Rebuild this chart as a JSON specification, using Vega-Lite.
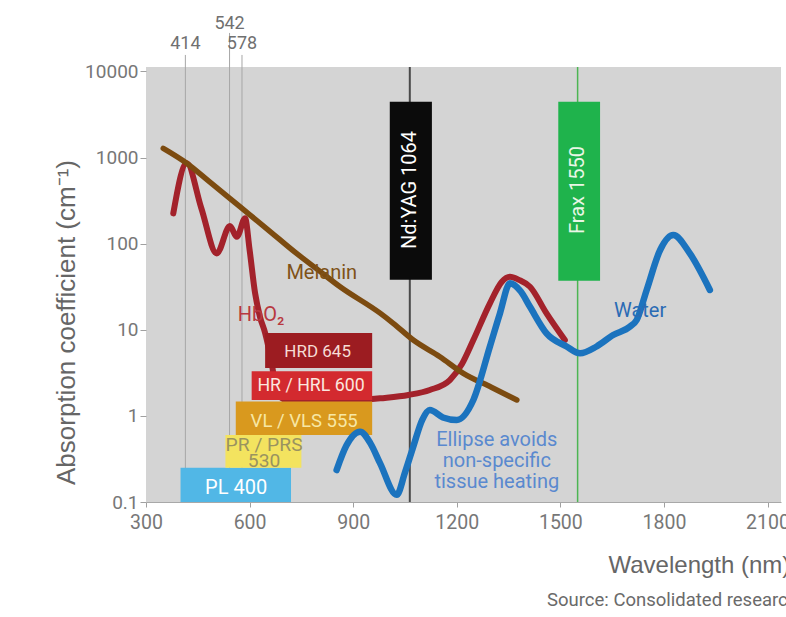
{
  "$schema": "https://vega.github.io/schema/vega-lite/v6.json",
  "width": 635,
  "height": 435,
  "autosize": {"type": "none"},
  "padding": {"left": 146, "top": 67, "right": 5, "bottom": 115},
  "background": "#ffffff",
  "view": {"fill": "#d4d4d4", "stroke": null},
  "config": {"font": "Roboto"},
  "title": {
    "text": "Source: Consolidated research",
    "orient": "bottom",
    "anchor": "start",
    "frame": "group",
    "dx": 401,
    "offset": 14,
    "font": "Roboto",
    "fontSize": 18.5,
    "fontWeight": "normal",
    "color": "#6a6a6a",
    "baseline": "top"
  },
  "datasets": {
    "curves": [
      {"series": "Melanin", "nm": 350, "k": 1280},
      {"series": "Melanin", "nm": 418, "k": 860},
      {"series": "Melanin", "nm": 480, "k": 540},
      {"series": "Melanin", "nm": 572, "k": 269},
      {"series": "Melanin", "nm": 650, "k": 149},
      {"series": "Melanin", "nm": 736, "k": 77},
      {"series": "Melanin", "nm": 800, "k": 49},
      {"series": "Melanin", "nm": 862, "k": 31.6},
      {"series": "Melanin", "nm": 978, "k": 15.6},
      {"series": "Melanin", "nm": 1016, "k": 11.9},
      {"series": "Melanin", "nm": 1074, "k": 7.6},
      {"series": "Melanin", "nm": 1151, "k": 4.87},
      {"series": "Melanin", "nm": 1219, "k": 3.12},
      {"series": "Melanin", "nm": 1300, "k": 2.15},
      {"series": "Melanin", "nm": 1374, "k": 1.53},
      {"series": "HbO2", "nm": 379, "k": 225},
      {"series": "HbO2", "nm": 418, "k": 860},
      {"series": "HbO2", "nm": 460, "k": 260},
      {"series": "HbO2", "nm": 505, "k": 77},
      {"series": "HbO2", "nm": 543, "k": 160},
      {"series": "HbO2", "nm": 563, "k": 120},
      {"series": "HbO2", "nm": 587, "k": 197},
      {"series": "HbO2", "nm": 600, "k": 85},
      {"series": "HbO2", "nm": 616, "k": 26.5},
      {"series": "HbO2", "nm": 630, "k": 14.2},
      {"series": "HbO2", "nm": 645, "k": 9.2},
      {"series": "HbO2", "nm": 664, "k": 4.1},
      {"series": "HbO2", "nm": 679, "k": 1.83},
      {"series": "HbO2", "nm": 700, "k": 1.55},
      {"series": "HbO2", "nm": 727, "k": 1.46},
      {"series": "HbO2", "nm": 800, "k": 1.45},
      {"series": "HbO2", "nm": 900, "k": 1.5},
      {"series": "HbO2", "nm": 978, "k": 1.6},
      {"series": "HbO2", "nm": 1060, "k": 1.75},
      {"series": "HbO2", "nm": 1122, "k": 2.0},
      {"series": "HbO2", "nm": 1180, "k": 2.61},
      {"series": "HbO2", "nm": 1215, "k": 4.0},
      {"series": "HbO2", "nm": 1248, "k": 7.6},
      {"series": "HbO2", "nm": 1296, "k": 20.3},
      {"series": "HbO2", "nm": 1330, "k": 36},
      {"series": "HbO2", "nm": 1354, "k": 41.4},
      {"series": "HbO2", "nm": 1380, "k": 38},
      {"series": "HbO2", "nm": 1412, "k": 31.6},
      {"series": "HbO2", "nm": 1460, "k": 15.5},
      {"series": "HbO2", "nm": 1513, "k": 7.6},
      {"series": "Water", "nm": 852, "k": 0.235},
      {"series": "Water", "nm": 880, "k": 0.45},
      {"series": "Water", "nm": 920, "k": 0.656},
      {"series": "Water", "nm": 950, "k": 0.48},
      {"series": "Water", "nm": 978, "k": 0.281},
      {"series": "Water", "nm": 1026, "k": 0.121},
      {"series": "Water", "nm": 1050, "k": 0.22},
      {"series": "Water", "nm": 1074, "k": 0.439},
      {"series": "Water", "nm": 1100, "k": 0.9},
      {"series": "Water", "nm": 1122, "k": 1.17},
      {"series": "Water", "nm": 1160, "k": 0.96},
      {"series": "Water", "nm": 1200, "k": 0.896},
      {"series": "Water", "nm": 1248, "k": 1.53},
      {"series": "Water", "nm": 1296, "k": 6.4},
      {"series": "Water", "nm": 1325, "k": 15.5},
      {"series": "Water", "nm": 1354, "k": 34.7},
      {"series": "Water", "nm": 1385, "k": 28},
      {"series": "Water", "nm": 1412, "k": 18.5},
      {"series": "Water", "nm": 1460, "k": 9.1},
      {"series": "Water", "nm": 1518, "k": 6.4},
      {"series": "Water", "nm": 1557, "k": 5.33},
      {"series": "Water", "nm": 1605, "k": 6.4},
      {"series": "Water", "nm": 1653, "k": 8.7},
      {"series": "Water", "nm": 1702, "k": 10.9},
      {"series": "Water", "nm": 1721, "k": 13.0},
      {"series": "Water", "nm": 1750, "k": 29},
      {"series": "Water", "nm": 1789, "k": 84.5},
      {"series": "Water", "nm": 1827, "k": 126},
      {"series": "Water", "nm": 1875, "k": 77},
      {"series": "Water", "nm": 1933, "k": 29}
    ],
    "bands": [
      {"band": "PL 400", "from": 400, "to": 720, "lo": 0.1, "hi": 0.25, "label": "PL 400", "labelNm": 561, "labelK": 0.147},
      {"band": "PR / PRS 530", "from": 530, "to": 750, "lo": 0.25, "hi": 0.6, "label": "PR / PRS\n530", "labelNm": 642, "labelK": 0.455},
      {"band": "VL / VLS 555", "from": 560, "to": 955, "lo": 0.6, "hi": 1.47, "label": "VL / VLS 555", "labelNm": 758, "labelK": 0.873},
      {"band": "HR / HRL 600", "from": 606, "to": 955, "lo": 1.53, "hi": 3.3, "label": "HR / HRL 600", "labelNm": 778, "labelK": 2.22},
      {"band": "HRD 645", "from": 645, "to": 955, "lo": 3.6, "hi": 9.2, "label": "HRD 645", "labelNm": 797, "labelK": 5.52}
    ],
    "lasers": [
      {"name": "Nd:YAG 1064", "nm": 1064, "from": 1006, "to": 1128, "lo": 38, "hi": 4460, "labelK": 420},
      {"name": "Frax 1550", "nm": 1550, "from": 1494, "to": 1615, "lo": 37, "hi": 4460, "labelK": 420}
    ],
    "peaks": [
      {"peak": "414", "nm": 414, "top": 15560, "labelK": 20600},
      {"peak": "542", "nm": 542, "top": 28000, "labelK": 35150},
      {"peak": "578", "nm": 578, "top": 15560, "labelK": 20600}
    ],
    "notes": [
      {"note": "Melanin", "nm": 809, "k": 45.7},
      {"note": "HbO₂", "nm": 633, "k": 14.9},
      {"note": "Water", "nm": 1731, "k": 16.5},
      {"note": "Ellipse avoids\nnon-specific\ntissue heating", "nm": 1316, "k": 0.52}
    ]
  },
  "resolve": {"scale": {"color": "independent", "size": "independent"}},
  "layer": [
    {
      "data": {"name": "peaks"},
      "mark": {"type": "rule", "color": "#a6a6a6", "strokeWidth": 1},
      "encoding": {
        "x": {
          "field": "nm", "type": "quantitative",
          "scale": {"domain": [300, 2139], "nice": false, "zero": false},
          "axis": {
            "title": "Wavelength (nm)",
            "values": [300, 600, 900, 1200, 1500, 1800, 2100],
            "format": "d",
            "grid": false,
            "labelFont": "Roboto",
            "labelFontSize": 19.5,
            "labelColor": "#777777",
            "labelPadding": 6,
            "labelFlush": false,
            "labelOverlap": false,
            "labelBound": false,
            "tickColor": "#a0a0a0",
            "tickSize": 5,
            "domainColor": "#a8a8a8",
            "titleFont": "Liberation Sans",
            "titleFontSize": 24,
            "titleFontWeight": "normal",
            "titleColor": "#666666",
            "titleX": 462,
            "titleY": 70,
            "titleAlign": "left",
            "titleBaseline": "alphabetic"
          }
        },
        "y": {
          "field": "top", "type": "quantitative",
          "scale": {"type": "log", "domain": [0.1, 11270], "nice": false},
          "axis": {
            "title": "Absorption coefficient (cm⁻¹)",
            "values": [0.1, 1, 10, 100, 1000, 10000],
            "labelExpr": "datum.value < 1 ? '0.1' : format(datum.value, 'd')",
            "grid": false,
            "domain": false,
            "labelFont": "Roboto",
            "labelFontSize": 19,
            "labelColor": "#777777",
            "labelPadding": 2,
            "tickColor": "#a0a0a0",
            "tickSize": 6,
            "titleFont": "Liberation Sans",
            "titleFontSize": 26,
            "titleFontWeight": "normal",
            "titleColor": "#666666",
            "titleX": -72,
            "titleY": 255,
            "titleAlign": "center",
            "titleBaseline": "alphabetic",
            "titleAngle": 270
          }
        },
        "y2": {"datum": 0.1}
      }
    },
    {
      "data": {"name": "peaks"},
      "mark": {"type": "text", "color": "#707070", "fontSize": 18, "align": "center", "baseline": "middle"},
      "encoding": {
        "x": {"field": "nm", "type": "quantitative", "scale": {"domain": [300, 2139], "nice": false, "zero": false}},
        "y": {"field": "labelK", "type": "quantitative", "scale": {"type": "log", "domain": [0.1, 11270], "nice": false}},
        "text": {"field": "peak"}
      }
    },
    {
      "data": {"name": "lasers"},
      "transform": [{"filter": "datum.name == 'Nd:YAG 1064'"}],
      "mark": {"type": "rule", "color": "#4a4a4a", "strokeWidth": 2},
      "encoding": {
        "x": {"field": "nm", "type": "quantitative", "scale": {"domain": [300, 2139], "nice": false, "zero": false}},
        "y": {"datum": 11270, "type": "quantitative", "scale": {"type": "log", "domain": [0.1, 11270], "nice": false}},
        "y2": {"datum": 0.1}
      }
    },
    {
      "data": {"name": "lasers"},
      "transform": [{"filter": "datum.name == 'Frax 1550'"}],
      "mark": {"type": "rule", "color": "#4cb552", "strokeWidth": 1.5},
      "encoding": {
        "x": {"field": "nm", "type": "quantitative", "scale": {"domain": [300, 2139], "nice": false, "zero": false}},
        "y": {"datum": 11270, "type": "quantitative", "scale": {"type": "log", "domain": [0.1, 11270], "nice": false}},
        "y2": {"datum": 0.1}
      }
    },
    {
      "data": {"name": "curves"},
      "transform": [{"filter": "datum.series == 'HbO2'"}],
      "mark": {"type": "line", "color": "#a3222b", "strokeWidth": 6, "interpolate": "monotone", "strokeCap": "round", "strokeJoin": "round"},
      "encoding": {
        "x": {"field": "nm", "type": "quantitative", "scale": {"domain": [300, 2139], "nice": false, "zero": false}},
        "y": {"field": "k", "type": "quantitative", "scale": {"type": "log", "domain": [0.1, 11270], "nice": false}},
        "order": {"field": "nm"}
      }
    },
    {
      "data": {"name": "bands"},
      "mark": {"type": "rect"},
      "encoding": {
        "x": {"field": "from", "type": "quantitative", "scale": {"domain": [300, 2139], "nice": false, "zero": false}},
        "x2": {"field": "to"},
        "y": {"field": "lo", "type": "quantitative", "scale": {"type": "log", "domain": [0.1, 11270], "nice": false}},
        "y2": {"field": "hi"},
        "color": {
          "field": "band", "type": "nominal", "legend": null,
          "scale": {
            "domain": ["PL 400", "PR / PRS 530", "VL / VLS 555", "HR / HRL 600", "HRD 645"],
            "range": ["#51b7e6", "#f3e35f", "#d9991e", "#d32a2f", "#9c1c21"]
          }
        }
      }
    },
    {
      "data": {"name": "bands"},
      "mark": {"type": "text", "align": "center", "baseline": "middle", "lineBreak": "\n", "lineHeight": 16},
      "encoding": {
        "x": {"field": "labelNm", "type": "quantitative", "scale": {"domain": [300, 2139], "nice": false, "zero": false}},
        "y": {"field": "labelK", "type": "quantitative", "scale": {"type": "log", "domain": [0.1, 11270], "nice": false}},
        "text": {"field": "label"},
        "size": {
          "field": "band", "type": "nominal", "legend": null,
          "scale": {
            "domain": ["PL 400", "PR / PRS 530", "VL / VLS 555", "HR / HRL 600", "HRD 645"],
            "range": [20, 17, 19.5, 19.5, 20]
          }
        },
        "color": {
          "field": "band", "type": "nominal", "legend": null,
          "scale": {
            "domain": ["PL 400", "PR / PRS 530", "VL / VLS 555", "HR / HRL 600", "HRD 645"],
            "range": ["#ffffff", "#9a9360", "#f7e7a4", "#fbe6df", "#f6dcd5"]
          }
        }
      }
    },
    {
      "data": {"name": "lasers"},
      "mark": {"type": "rect"},
      "encoding": {
        "x": {"field": "from", "type": "quantitative", "scale": {"domain": [300, 2139], "nice": false, "zero": false}},
        "x2": {"field": "to"},
        "y": {"field": "lo", "type": "quantitative", "scale": {"type": "log", "domain": [0.1, 11270], "nice": false}},
        "y2": {"field": "hi"},
        "color": {
          "field": "name", "type": "nominal", "legend": null,
          "scale": {"domain": ["Nd:YAG 1064", "Frax 1550"], "range": ["#0b0b0b", "#1fb34c"]}
        }
      }
    },
    {
      "data": {"name": "lasers"},
      "mark": {"type": "text", "fontSize": 20, "angle": 270, "align": "center", "baseline": "middle"},
      "encoding": {
        "x": {"field": "nm", "type": "quantitative", "scale": {"domain": [300, 2139], "nice": false, "zero": false}},
        "y": {"field": "labelK", "type": "quantitative", "scale": {"type": "log", "domain": [0.1, 11270], "nice": false}},
        "text": {"field": "name"},
        "color": {
          "field": "name", "type": "nominal", "legend": null,
          "scale": {"domain": ["Nd:YAG 1064", "Frax 1550"], "range": ["#ffffff", "#e9f6e6"]}
        }
      }
    },
    {
      "data": {"name": "curves"},
      "transform": [{"filter": "datum.series == 'Melanin'"}],
      "mark": {"type": "line", "color": "#7c4b10", "strokeWidth": 5.5, "interpolate": "monotone", "strokeCap": "round", "strokeJoin": "round"},
      "encoding": {
        "x": {"field": "nm", "type": "quantitative", "scale": {"domain": [300, 2139], "nice": false, "zero": false}},
        "y": {"field": "k", "type": "quantitative", "scale": {"type": "log", "domain": [0.1, 11270], "nice": false}},
        "order": {"field": "nm"}
      }
    },
    {
      "data": {"name": "curves"},
      "transform": [{"filter": "datum.series == 'Water'"}],
      "mark": {"type": "line", "color": "#1b73be", "strokeWidth": 6.5, "interpolate": "monotone", "strokeCap": "round", "strokeJoin": "round"},
      "encoding": {
        "x": {"field": "nm", "type": "quantitative", "scale": {"domain": [300, 2139], "nice": false, "zero": false}},
        "y": {"field": "k", "type": "quantitative", "scale": {"type": "log", "domain": [0.1, 11270], "nice": false}},
        "order": {"field": "nm"}
      }
    },
    {
      "data": {"name": "notes"},
      "mark": {"type": "text", "fontSize": 20, "align": "center", "baseline": "middle", "lineBreak": "\n", "lineHeight": 21},
      "encoding": {
        "x": {"field": "nm", "type": "quantitative", "scale": {"domain": [300, 2139], "nice": false, "zero": false}},
        "y": {"field": "k", "type": "quantitative", "scale": {"type": "log", "domain": [0.1, 11270], "nice": false}},
        "text": {"field": "note"},
        "color": {
          "field": "note", "type": "nominal", "legend": null,
          "scale": {
            "domain": ["Melanin", "HbO₂", "Water", "Ellipse avoids\nnon-specific\ntissue heating"],
            "range": ["#7f5218", "#b8383f", "#2a6bb4", "#5a89cf"]
          }
        }
      }
    }
  ]
}
